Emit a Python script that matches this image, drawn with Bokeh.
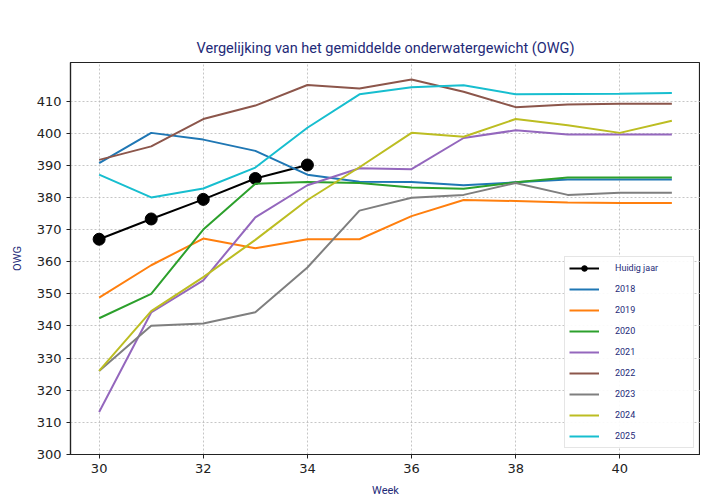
from bokeh.plotting import figure
from bokeh.models import Range1d, FixedTicker, Legend, LegendItem
from bokeh.embed import file_html
from bokeh.resources import INLINE

weeks = [30, 31, 32, 33, 34, 35, 36, 37, 38, 39, 40, 41]
current_weeks = [30, 31, 32, 33, 34]
current_values = [367.0, 373.3, 379.4, 385.9, 390.1]

series_names = ["2018", "2019", "2020", "2021", "2022", "2023", "2024", "2025"]
v2018 = [390.7, 400.1, 398.0, 394.5, 387.1, 384.9, 384.8, 383.8, 384.7, 385.6, 385.6, 385.6]
v2019 = [348.8, 358.9, 367.2, 364.2, 367.0, 367.0, 374.2, 379.2, 378.9, 378.4, 378.3, 378.3]
v2020 = [342.4, 350.0, 370.0, 384.3, 384.8, 384.5, 383.1, 382.7, 384.7, 386.2, 386.2, 386.2]
v2021 = [313.2, 344.2, 354.2, 373.8, 383.8, 389.1, 388.8, 398.5, 400.9, 399.6, 399.6, 399.6]
v2022 = [391.7, 395.9, 404.4, 408.6, 415.0, 413.9, 416.7, 412.9, 408.1, 408.9, 409.2, 409.2]
v2023 = [326.0, 340.1, 340.8, 344.3, 358.2, 375.9, 379.9, 380.8, 384.5, 380.8, 381.5, 381.5]
v2024 = [326.0, 344.6, 355.2, 366.8, 379.2, 389.4, 400.1, 398.9, 404.4, 402.5, 400.1, 403.9]
v2025 = [387.1, 380.0, 382.8, 389.3, 401.7, 412.1, 414.3, 414.9, 412.1, 412.2, 412.3, 412.5]
series_values = [v2018, v2019, v2020, v2021, v2022, v2023, v2024, v2025]
series_colors = ["#1f77b4", "#ff7f0e", "#2ca02c", "#9467bd", "#8c564b", "#7f7f7f", "#bcbd22", "#17becf"]

y_ticks = [300, 310, 320, 330, 340, 350, 360, 370, 380, 390, 400, 410]
x_ticks = [30, 32, 34, 36, 38, 40]

navy = "#1e2a78"
cond_font = "Roboto"

p = figure(
    frame_width=630, frame_height=392,
    min_border_left=70, min_border_right=0, min_border_top=62, min_border_bottom=34,
    x_range=Range1d(29.45, 41.55), y_range=Range1d(300, 422),
    output_backend="svg", toolbar_location=None,
    title="Vergelijking van het gemiddelde onderwatergewicht (OWG)",
)
p.title.align = "center"
p.title.text_font = cond_font
p.title.text_font_size = "14.5px"
p.title.text_font_style = "normal"
p.title.text_color = navy
p.title.standoff = 12

items = []
r_line = p.line(current_weeks, current_values, line_color="black", line_width=2)
r_pts = p.scatter(current_weeks, current_values, size=12, fill_color="black", line_color="black")
items.append(LegendItem(label="Huidig jaar", renderers=[r_line, r_pts]))
for name, vals, col in zip(series_names, series_values, series_colors):
    r = p.line(weeks, vals, line_color=col, line_width=2)
    items.append(LegendItem(label=name, renderers=[r]))

legend = Legend(items=items, location="bottom_right")
legend.label_text_font = cond_font
legend.label_text_font_size = "9px"
legend.label_text_color = navy
legend.glyph_width = 30
legend.glyph_height = 14
legend.label_height = 14
legend.label_width = 74
legend.label_standoff = 16
legend.spacing = 7
legend.padding = 4
legend.margin = 6
legend.border_line_color = "#cccccc"
legend.border_line_width = 1
legend.background_fill_alpha = 0.9
p.add_layout(legend)

for ax in (p.xaxis[0], p.yaxis[0]):
    ax.major_label_text_font = "DejaVu Sans"
    ax.major_label_text_font_size = "13px"
    ax.major_label_text_color = "#222222"
    ax.axis_label_text_font = cond_font
    ax.axis_label_text_font_size = "11px"
    ax.axis_label_text_font_style = "normal"
    ax.axis_label_text_color = navy
    ax.axis_line_color = "#222222"
    ax.axis_line_width = 1.2
    ax.major_tick_out = 4
    ax.major_tick_in = 0
    ax.major_tick_line_color = "#222222"
    ax.minor_tick_line_color = None

p.xaxis.axis_label = "Week"
p.yaxis.axis_label = "OWG"
p.xaxis.ticker = FixedTicker(ticks=x_ticks)
p.yaxis.ticker = FixedTicker(ticks=y_ticks)
p.xaxis.axis_label_standoff = 8
p.yaxis.axis_label_standoff = 10

p.grid.grid_line_color = "#b8b8b8"
p.grid.grid_line_dash = "2 2"
p.grid.grid_line_width = 0.8
p.outline_line_color = "#222222"
p.outline_line_width = 1.2
p.outline_line_alpha = 1.0

open("out.html", "w").write(file_html(p, INLINE))
